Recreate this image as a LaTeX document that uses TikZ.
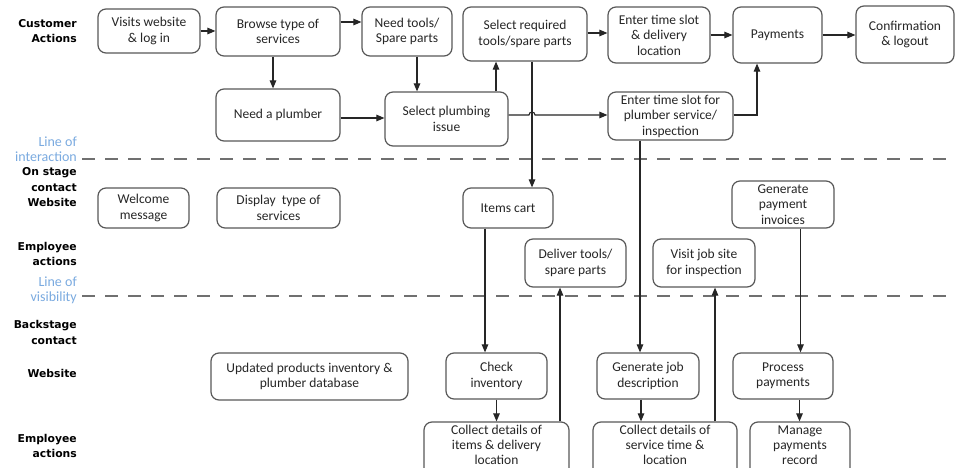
\documentclass[tikz,border=0pt]{standalone}
\usepackage{fontspec}
\setmainfont{Carlito}
\newfontfamily\lblfont{DejaVu Sans}
\usetikzlibrary{arrows.meta,calc}

\definecolor{boxline}{RGB}{88,88,88}
\definecolor{lineblue}{RGB}{122,170,224}
\definecolor{dashgrey}{RGB}{112,112,112}
\definecolor{ink}{RGB}{38,38,38}

\tikzset{
  stepbox/.style={draw=boxline, line width=1.2pt, rounded corners=8pt, inner sep=0pt,
    align=center, text=ink, font=\fontsize{13.5}{15.5}\selectfont},
  lowbox/.style={stepbox, font=\fontsize{13.5}{15}\selectfont, text depth=8pt},
  arr/.style={draw=ink, line width=1.1pt, -{Triangle[length=8pt,width=6.5pt]}},
  lanelbl/.style={anchor=east, align=right, text=black, inner sep=0pt,
    font=\lblfont\bfseries\fontsize{10.8}{15.5}\selectfont},
  linelbl/.style={anchor=east, align=right, text=lineblue, inner sep=0pt,
    font=\fontsize{14}{15}\selectfont},
  sepline/.style={draw=dashgrey, line width=1.8pt, dash pattern=on 13pt off 10pt}
}

\begin{document}
\begin{tikzpicture}[x=1pt,y=-1pt]
\useasboundingbox (0,0) rectangle (955,468);
\clip (0,0) rectangle (955,468);
\fill[white] (0,0) rectangle (955,468);

% lane labels
\node[lanelbl] (lCust) at (77,31)    {Customer\\Actions};
\node[linelbl] (lInter) at (77,149.5) {Line of\\interaction};
\node[lanelbl] (lOn)   at (77,187.5) {On stage\\contact\\Website};
\node[lanelbl] (lEmp1) at (77,254)   {Employee\\actions};
\node[linelbl] (lVis)  at (77,290.5) {Line of\\visibility};
\node[lanelbl] (lBack) at (77,332.5) {Backstage\\contact};
\node[lanelbl] (lWeb)  at (77,373)   {Website};
\node[lanelbl] (lEmp2) at (77,446)   {Employee\\actions};

% separator lines
\coordinate (interS) at (82,159);  \coordinate (interE) at (955,159);
\coordinate (visS)   at (82,296);  \coordinate (visE)   at (955,296);
\draw[sepline] (interS) -- (interE);
\draw[sepline] (visS) -- (visE);

% customer actions
\node[stepbox, minimum width=102pt, minimum height=44pt] (visit)    at (149,31)    {Visits website\\\& log in};
\node[stepbox, minimum width=124pt, minimum height=49pt] (browse)   at (278,31.5)  {Browse type of\\services};
\node[stepbox, minimum width=90pt,  minimum height=49pt] (tools)    at (407,31.5)  {Need tools/\\Spare parts};
\node[stepbox, minimum width=124pt, minimum height=54pt] (selreq)   at (525,34)    {Select required\\tools/spare parts};
\node[stepbox, minimum width=102pt, minimum height=56pt] (slotdel)  at (659,35)    {Enter time slot\\\& delivery\\location};
\node[stepbox, minimum width=89pt,  minimum height=56pt] (pay)      at (777.5,35)  {Payments};
\node[stepbox, minimum width=98pt,  minimum height=57pt] (confirm)  at (905,34.5)  {Confirmation\\\& logout};
\node[stepbox, minimum width=124pt, minimum height=52pt] (plumber)  at (278,115)   {Need a plumber};
\node[stepbox, minimum width=123pt, minimum height=54pt] (selplumb) at (446.5,119) {Select plumbing\\issue};
\node[stepbox, minimum width=125pt, minimum height=48pt] (slotplb)  at (670.5,116) {Enter time slot for\\plumber service/\\inspection};

% on stage
\node[stepbox, minimum width=91pt,  minimum height=40pt] (welcome)  at (143.5,208) {Welcome\\message};
\node[stepbox, minimum width=123pt, minimum height=40pt] (display)  at (278.5,208) {Display\ \ type of\\services};
\node[stepbox, minimum width=90pt,  minimum height=40pt] (cart)     at (508,208)   {Items cart};
\node[stepbox, minimum width=102pt, minimum height=47pt] (geninv)   at (783,204.5) {Generate\\payment\\invoices};
\node[stepbox, minimum width=101pt, minimum height=48pt] (deliver)  at (575.5,263) {Deliver tools/\\spare parts};
\node[stepbox, minimum width=102pt, minimum height=48pt] (visitjob) at (704,263)   {Visit job site\\for inspection};

% backstage
\node[stepbox, minimum width=197pt, minimum height=47pt] (updated)  at (309.5,376.5) {Updated products inventory \&\\plumber database};
\node[stepbox, minimum width=101pt, minimum height=46pt] (check)    at (496.5,376) {Check\\inventory};
\node[stepbox, minimum width=102pt, minimum height=46pt] (genjob)   at (648,376)   {Generate job\\description};
\node[stepbox, minimum width=100pt, minimum height=46pt] (procpay)  at (783,376)   {Process\\payments};
\node[lowbox, minimum width=145pt, minimum height=54pt] (collit)   at (496.5,449) {Collect details of\\items \& delivery\\location};
\node[lowbox, minimum width=144pt, minimum height=54pt] (collsv)   at (665,449)   {Collect details of\\service time \&\\location};
\node[lowbox, minimum width=100pt, minimum height=54pt] (manage)   at (800,449)   {Manage\\payments\\record};

% customer flow
\draw[arr] (visit.east) -- (visit.east -| browse.west);
\draw[arr] ([yshift=9.5pt]browse.east) -- ([yshift=9.5pt]browse.east -| tools.west);
\draw[arr] ([xshift=-5pt]browse.south) -- ([xshift=-5pt]browse.south |- plumber.north);
\draw[arr] ([xshift=10pt]tools.south) -- ([xshift=10pt]tools.south |- selplumb.north);
\draw[arr] ([yshift=-3pt]plumber.east) -- ([yshift=-3pt]plumber.east -| selplumb.west);
\draw[arr] ([xshift=49.5pt]selplumb.north) -- ([xshift=49.5pt]selplumb.north |- selreq.south);
\draw[arr] ([yshift=1pt]selreq.east) -- ([yshift=1pt]selreq.east -| slotdel.west);
\draw[arr] (slotdel.east) -- (slotdel.east -| pay.west);
\draw[arr] (pay.east) -- (pay.east -| confirm.west);

% required parts go to the cart
\coordinate (cartx) at ([xshift=7pt]selreq.south);
\draw[arr] (cartx) -- (cartx |- cart.north);

% plumbing issue to plumber slot, hopping over the cart line
\coordinate (hopS) at ([yshift=4pt]selplumb.east);
\coordinate (hop) at (cartx |- hopS);
\draw[arr] (hopS) -- ([xshift=-3pt]hop) arc[start angle=180, end angle=0, radius=3pt]
  -- (hopS -| slotplb.west);

% plumber slot to payments
\draw[arr] ([yshift=1pt]slotplb.east) -| ([xshift=-20.5pt]pay.south);

% plumber slot down to job description
\coordinate (jobx) at ([xshift=-30.5pt]slotplb.south);
\draw[arr] (jobx) -- (jobx |- genjob.north);

% cart to inventory
\coordinate (invx) at ([xshift=-23pt]cart.south);
\draw[arr] (invx) -- (invx |- check.north);
\draw[arr] (check.south) -- (check.south |- collit.north);
\coordinate (delx) at ([xshift=63.5pt]collit.north);
\draw[arr] (delx) -- (delx |- deliver.south);

% job description chain
\coordinate (gjx) at ([xshift=-7pt]genjob.south);
\draw[arr] (gjx) -- (gjx |- collsv.north);
\coordinate (vjx) at ([xshift=50pt]collsv.north);
\draw[arr] (vjx) -- (vjx |- visitjob.south);

% payment chain
\coordinate (invc) at ([xshift=17.5pt]geninv.south);
\draw[arr] (invc) -- (invc |- procpay.north);
\coordinate (ppx) at ([xshift=16.5pt]procpay.south);
\draw[arr] (ppx) -- (ppx |- manage.north);
\end{tikzpicture}
\end{document}
